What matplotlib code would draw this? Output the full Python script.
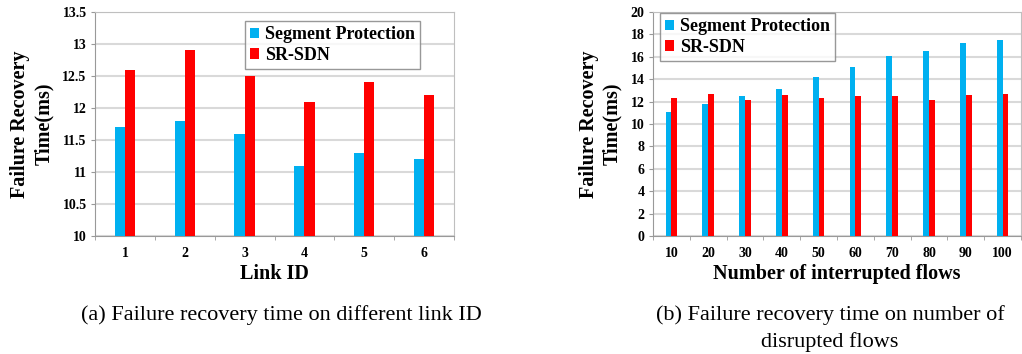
import numpy as np
import matplotlib.pyplot as plt

link_ids = ['1', '2', '3', '4', '5', '6']
sp_link = [11.7, 11.8, 11.6, 11.1, 11.3, 11.2]
sr_link = [12.6, 12.9, 12.5, 12.1, 12.4, 12.2]

flows = ['10', '20', '30', '40', '50', '60', '70', '80', '90', '100']
sp_flows = [11.1, 11.8, 12.5, 13.1, 14.2, 15.1, 16.1, 16.5, 17.2, 17.5]
sr_flows = [12.3, 12.7, 12.1, 12.6, 12.3, 12.5, 12.5, 12.1, 12.6, 12.7]

BLUE = '#00b0f0'
RED = '#ff0000'
plt.rcParams['font.family'] = 'Liberation Serif'

fig = plt.figure(figsize=(10.22, 3.54), dpi=100)
W, H = 1022, 354


def make_axes(l, t, r, b):
    return fig.add_axes([l / W, 1 - b / H, (r - l) / W, (b - t) / H])


def draw(ax, cats, sp, sr, width, ylim, yticks, ylabels, xlabel, legloc):
    x = np.arange(len(cats))
    ax.bar(x - width / 2, sp, width, color=BLUE, label='Segment Protection', zorder=3)
    ax.bar(x + width / 2, sr, width, color=RED, label='SR-SDN', zorder=3)
    ax.set_xlim(-0.5, len(cats) - 0.5)
    ax.set_ylim(*ylim)
    ax.set_yticks(yticks)
    ax.set_yticklabels(ylabels, fontsize=10, fontweight='bold')
    ax.set_xticks(x)
    ax.set_xticklabels(cats, fontsize=10, fontweight='bold')
    ax.set_xticks(np.arange(len(cats) + 1) - 0.5, minor=True)
    ax.tick_params(axis='x', which='major', length=0, pad=8)
    ax.tick_params(axis='x', which='minor', length=3, color='#999999')
    ax.tick_params(axis='y', length=3, color='#999999', pad=3)
    ax.yaxis.grid(True, color='#d9d9d9', linewidth=1.5, zorder=0)
    for s in ['top', 'right']:
        ax.spines[s].set_color('#bfbfbf')
    ax.spines['left'].set_color('#999999')
    ax.spines['bottom'].set_color('#999999')
    ax.set_ylabel('Failure Recovery\nTime(ms)', fontsize=14.5, fontweight='bold',
                  linespacing=1.25, labelpad=6)
    ax.set_xlabel(xlabel, fontsize=14.5, fontweight='bold', labelpad=3)
    leg = ax.legend(loc='upper left', bbox_to_anchor=legloc,
                    prop={'weight': 'bold', 'size': 13}, frameon=True, fancybox=False,
                    handlelength=0.5, handleheight=0.5, handletextpad=0.3,
                    borderpad=0.3, labelspacing=0.2, borderaxespad=0)
    leg.get_frame().set_edgecolor('#7f7f7f')
    leg.get_frame().set_linewidth(1.0)


ax1 = make_axes(95, 12, 454, 236)
draw(ax1, link_ids, sp_link, sr_link, 0.17, (10, 13.5),
     [10, 10.5, 11, 11.5, 12, 12.5, 13, 13.5],
     ['10', '10.5', '11', '11.5', '12', '12.5', '13', '13.5'],
     'Link ID', ((245 - 95) / 359, (236 - 21) / 224))

ax2 = make_axes(653, 12, 1021, 236)
draw(ax2, flows, sp_flows, sr_flows, 0.16, (0, 20),
     list(range(0, 21, 2)), [str(v) for v in range(0, 21, 2)],
     'Number of interrupted flows', ((660 - 653) / 368, (236 - 13) / 224))

fig.text(281 / W, 1 - 315 / H, '(a) Failure recovery time on different link ID',
         fontsize=16, ha='center', va='center')
fig.text(830 / W, 1 - 315 / H, '(b) Failure recovery time on number of',
         fontsize=16, ha='center', va='center')
fig.text(830 / W, 1 - 342 / H, 'disrupted flows',
         fontsize=16, ha='center', va='center')

fig.savefig('out.png', dpi=100, facecolor='white')
